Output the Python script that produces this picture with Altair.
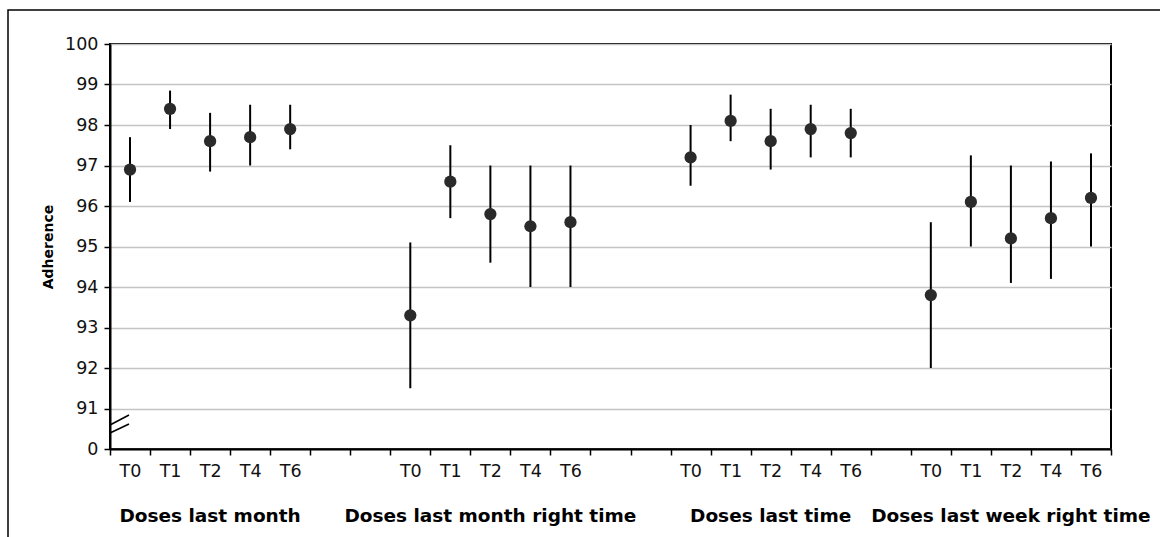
import altair as alt
import pandas as pd

# ---- data ----
groups = ["Doses last month", "Doses last month right time",
          "Doses last time", "Doses last week right time"]
times = ["T0", "T1", "T2", "T4", "T6"]
gap_slots_after = [2, 2, 1]  # empty category slots between groups

mean_vals = [
    [96.9, 98.4, 97.6, 97.7, 97.9],
    [93.3, 96.6, 95.8, 95.5, 95.6],
    [97.2, 98.1, 97.6, 97.9, 97.8],
    [93.8, 96.1, 95.2, 95.7, 96.2],
]
low_vals = [
    [96.1, 97.9, 96.85, 97.0, 97.4],
    [91.5, 95.7, 94.6, 94.0, 94.0],
    [96.5, 97.6, 96.9, 97.2, 97.2],
    [92.0, 95.0, 94.1, 94.2, 95.0],
]
high_vals = [
    [97.7, 98.85, 98.3, 98.5, 98.5],
    [95.1, 97.5, 97.0, 97.0, 97.0],
    [98.0, 98.75, 98.4, 98.5, 98.4],
    [95.6, 97.25, 97.0, 97.1, 97.3],
]
y_ticks = [90, 91, 92, 93, 94, 95, 96, 97, 98, 99, 100]

# ---- build slot domain and tables ----
slots = []
rows = []
label_rows = []
for gi, g in enumerate(groups):
    for ti, t in enumerate(times):
        sid = f"g{gi}-{t}"
        slots.append(sid)
        rows.append({"slot": sid, "group": g, "time": t,
                     "mean": mean_vals[gi][ti], "lo": low_vals[gi][ti],
                     "hi": high_vals[gi][ti]})
    label_rows.append({"slot": f"g{gi}-T2", "group": g})
    if gi < len(gap_slots_after):
        for k in range(gap_slots_after[gi]):
            slots.append(f"gap{gi}{k}")

df = pd.DataFrame(rows)
labels_df = pd.DataFrame(label_rows)
one = pd.DataFrame({"a": [0]})

W, H = 1001, 405
FONT = "DejaVu Sans"

x_enc = alt.X(
    "slot:N",
    scale=alt.Scale(domain=slots, paddingInner=0, paddingOuter=0),
    axis=alt.Axis(
        title=None,
        labelExpr="indexof(datum.label,'gap')==0 ? '' : substring(datum.label,3)",
        labelAngle=0,
        labelFont=FONT,
        labelFontSize=17.5,
        labelColor="#111111",
        labelPadding=7,
        tickBand="extent",
        tickSize=6,
        tickColor="black",
        tickWidth=1.5,
        domainColor="black",
        domainWidth=2,
        grid=False,
    ),
)
y_scale = alt.Scale(domain=[90, 100], nice=False, zero=False)
y_axis = alt.Axis(
    title="Adherence",
    titleFont=FONT,
    titleFontSize=14,
    titleFontWeight="bold",
    titleColor="black",
    titlePadding=9,
    values=y_ticks,
    labelExpr="datum.value == 90 ? '0' : datum.label",
    labelFont=FONT,
    labelFontSize=17.5,
    labelColor="#111111",
    labelPadding=6,
    tickSize=6,
    tickColor="black",
    tickWidth=1.5,
    domainColor="black",
    domainWidth=2,
    grid=True,
    gridColor="#c4c4c4",
    gridWidth=1.5,
)

border = alt.Chart(one).mark_rect(
    fillOpacity=0, stroke="black", strokeWidth=1.5
).encode(
    x=alt.value(-102), x2=alt.value(W + 70),
    y=alt.value(-34), y2=alt.value(H + 120),
)

bars = alt.Chart(df).mark_rule(color="black", strokeWidth=2).encode(
    x=x_enc,
    y=alt.Y("lo:Q", scale=y_scale, axis=y_axis),
    y2="hi:Q",
)

points = alt.Chart(df).mark_circle(size=150, color="#2a2a2a", opacity=1).encode(
    x=alt.X("slot:N"),
    y=alt.Y("mean:Q"),
)

group_text = alt.Chart(labels_df).mark_text(
    font=FONT, fontSize=18.5, fontWeight="bold", color="black",
    baseline="middle", align="center",
).encode(
    x=alt.X("slot:N"),
    y=alt.value(H + 67),
    text="group:N",
)

brk1 = alt.Chart(one).mark_rule(color="black", strokeWidth=1.5).encode(
    x=alt.value(0), x2=alt.value(19), y=alt.value(H - 24), y2=alt.value(H - 34)
)
brk2 = alt.Chart(one).mark_rule(color="black", strokeWidth=1.5).encode(
    x=alt.value(0), x2=alt.value(19), y=alt.value(H - 16), y2=alt.value(H - 25)
)

chart = alt.layer(bars, points, group_text, brk1, brk2, border).properties(
    width=W, height=H,
    background="white",
    autosize=alt.AutoSizeParams(type="none"),
    padding={"left": 110, "top": 44, "right": 49, "bottom": 88},
).configure_view(
    stroke="black", strokeWidth=2
)

chart.save("out.html", embed_options={"renderer": "svg", "actions": False})
